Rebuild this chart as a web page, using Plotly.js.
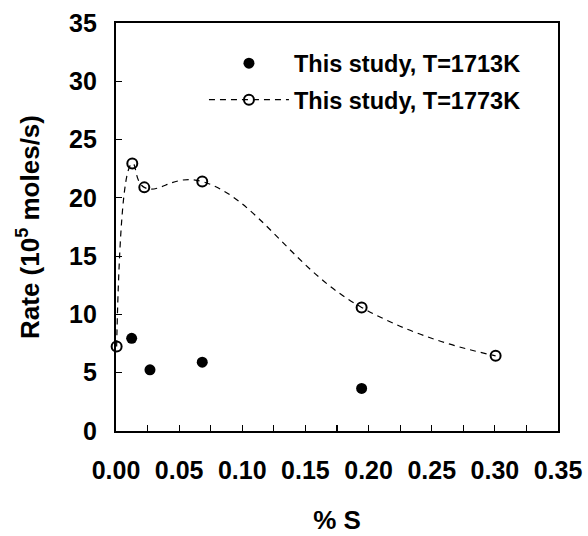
<!DOCTYPE html>
<html>
<head>
<meta charset="utf-8">
<script src="https://cdn.plot.ly/plotly-3.0.1.min.js"></script>
<style>html,body{margin:0;padding:0;background:#fff;}#chart{width:588px;height:536px;}</style>
</head>
<body>
<div id="chart"></div>
<script>
// Data
const s1713 = [0.0124, 0.0269, 0.0683, 0.1945];
const rate1713 = [7.95, 5.25, 5.9, 3.65];
const s1773 = [0.0005, 0.0129, 0.0224, 0.0683, 0.1945, 0.3006];
const rate1773 = [7.25, 22.95, 20.9, 21.4, 10.6, 6.45];
const name1713 = 'This study, T=1713K';
const name1773 = 'This study, T=1773K';
const xTickVals = [0, 0.05, 0.1, 0.15, 0.2, 0.25, 0.3, 0.35];
const xTickText = ['0.00', '0.05', '0.10', '0.15', '0.20', '0.25', '0.30', '0.35'];

const font = {family: 'Liberation Sans, Arial, sans-serif', color: '#000', weight: 'bold'};

const traces = [
  {
    x: s1713, y: rate1713, name: name1713, mode: 'markers', type: 'scatter',
    legendgroup: 'a',
    marker: {symbol: 'circle', size: 11, color: '#000'},
    cliponaxis: false
  },
  {
    x: s1773, y: rate1773, name: name1773, mode: 'lines+markers', type: 'scatter',
    legendgroup: 'b',
    line: {shape: 'spline', smoothing: 1.3, color: '#000', width: 1.2, dash: '6px,5px'},
    marker: {symbol: 'circle-open', size: 10, color: '#000', line: {width: 2, color: '#000'}},
    cliponaxis: false
  }
];

const layout = {
  width: 588, height: 536,
  margin: {l: 116, r: 30, t: 23, b: 105},
  paper_bgcolor: '#fff', plot_bgcolor: '#fff',
  font: Object.assign({}, font, {size: 24}),
  showlegend: true,
  legend: {
    x: 0.199, y: 0.955, xanchor: 'left', yanchor: 'top',
    bgcolor: 'rgba(0,0,0,0)', borderwidth: 0,
    itemwidth: 80, tracegroupgap: 3, traceorder: 'grouped',
    font: Object.assign({}, font, {size: 23.5})
  },
  xaxis: {
    range: [0, 0.35], tickvals: xTickVals, ticktext: xTickText,
    ticks: 'inside', ticklen: 6, tickwidth: 1.2, tickcolor: '#000',
    minor: {dtick: 0.025, tick0: 0, ticks: 'inside', ticklen: 6, tickwidth: 1.2, tickcolor: '#000'},
    showline: true, linecolor: '#000', linewidth: 2.2, mirror: true,
    showgrid: false, zeroline: false,
    ticklabelstandoff: 16,
    tickfont: Object.assign({}, font, {size: 25}),
    title: {text: '% S', font: Object.assign({}, font, {size: 26}), standoff: 28}
  },
  yaxis: {
    range: [0, 35], dtick: 5, tick0: 0,
    ticks: 'inside', ticklen: 6, tickwidth: 1.2, tickcolor: '#000',
    showline: true, linecolor: '#000', linewidth: 2.2, mirror: true,
    showgrid: false, zeroline: false,
    ticklabelstandoff: 12,
    tickfont: Object.assign({}, font, {size: 25}),
    title: {text: 'Rate (10<sup>5</sup> moles/s)', font: Object.assign({}, font, {size: 26}), standoff: 22}
  }
};

Plotly.newPlot('chart', traces, layout, {displayModeBar: false, staticPlot: true});
</script>
</body>
</html>
